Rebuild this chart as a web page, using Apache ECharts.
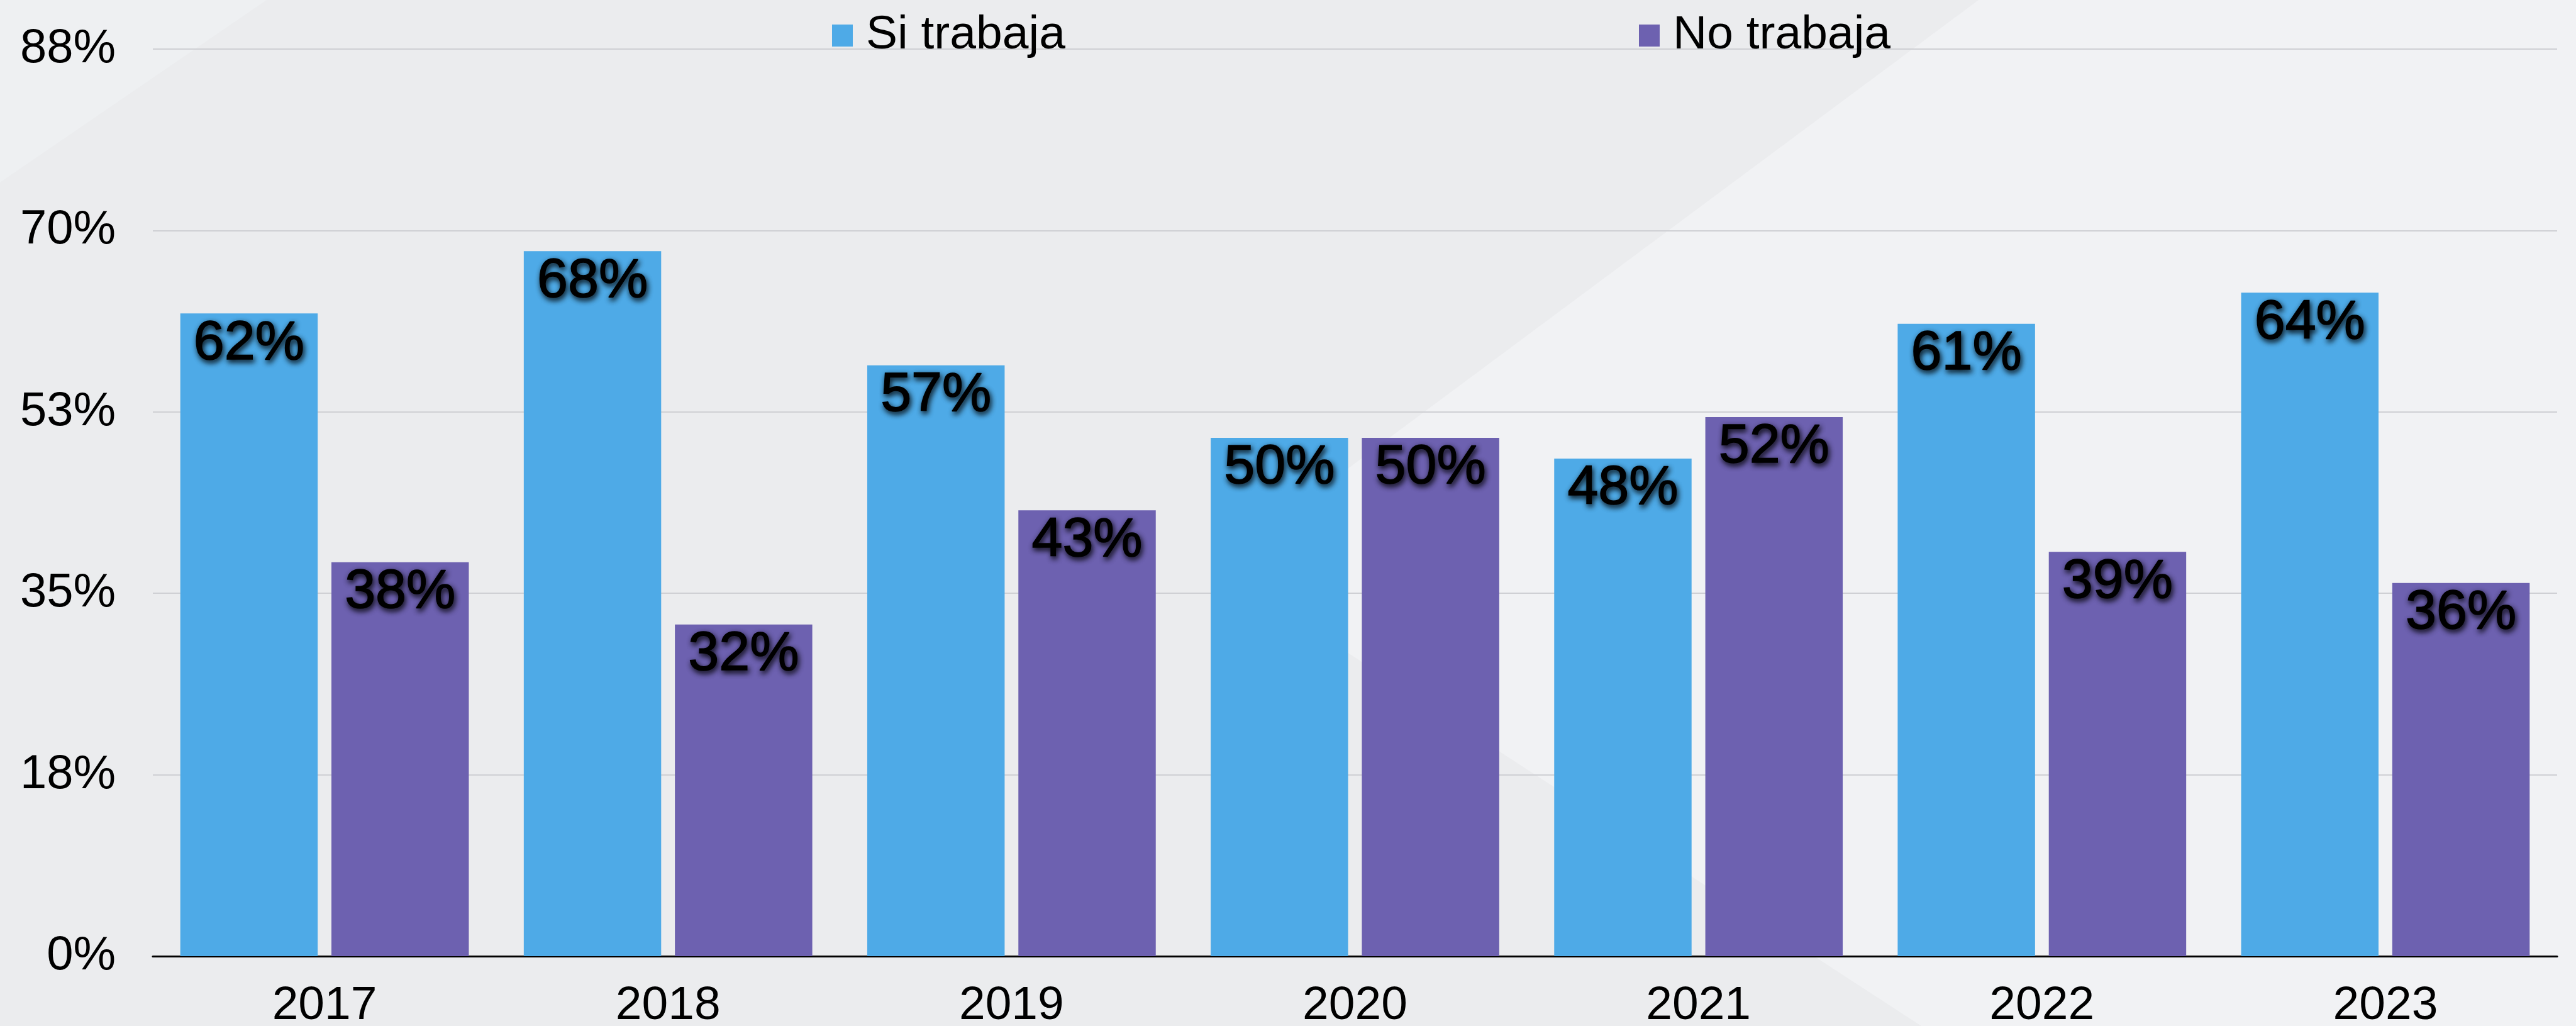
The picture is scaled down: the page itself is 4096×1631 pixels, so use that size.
<!DOCTYPE html>
<html>
<head>
<meta charset="utf-8">
<script src="https://cdn.jsdelivr.net/npm/echarts@6/dist/echarts.min.js"></script>
<style>
  html, body { margin: 0; padding: 0; background: #ebecee; }
  #container { width: 4096px; height: 1631px; }
</style>
</head>
<body>
<div id="container"></div>
<script>
// datos
var years = ['2017', '2018', '2019', '2020', '2021', '2022', '2023'];
var siTrabaja = [62, 68, 57, 50, 48, 61, 64];
var noTrabaja = [38, 32, 43, 50, 52, 39, 36];
var yTicks = [0, 17.5, 35, 52.5, 70, 87.5];

var FONT = '"Liberation Sans", Arial, Helvetica, sans-serif';

var dom = document.getElementById('container');
var myChart = echarts.init(dom);

var barLabel = {
    show: true,
    position: 'insideTop',
    distance: 4,
    formatter: '{c}%',
    color: '#000',
    fontFamily: FONT,
    fontSize: 88,
    textBorderColor: '#000',
    textBorderWidth: 1.5,
    textShadowColor: 'rgba(0,0,0,0.9)',
    textShadowBlur: 9,
    textShadowOffsetX: 2,
    textShadowOffsetY: 4
};

var legendText = {
    color: '#000',
    fontFamily: FONT,
    fontSize: 75,
    padding: [0, 0, 12, 16]
};

var option = {
    backgroundColor: '#ebecee',
    animation: false,
    graphic: [
        {
            type: 'polygon', z: -10, silent: true,
            shape: { points: [[0, 0], [424, 0], [0, 290]] },
            style: { fill: '#eef0f2' }
        },
        {
            type: 'polygon', z: -10, silent: true,
            shape: { points: [[3146, 0], [4096, 0], [4096, 1631], [3055, 1631], [1933, 901]] },
            style: { fill: '#f1f2f4' }
        }
    ],
    legend: [
        {
            data: ['Si trabaja'],
            left: 1318, top: 14,
            icon: 'rect', itemWidth: 33, itemHeight: 35,
            textStyle: legendText
        },
        {
            data: ['No trabaja'],
            left: 2601, top: 14,
            icon: 'rect', itemWidth: 33, itemHeight: 35,
            textStyle: legendText
        }
    ],
    grid: {
        left: 243,
        right: 30,
        top: 78,
        bottom: 111,
        containLabel: false,
        outerBoundsMode: 'none'
    },
    xAxis: {
        type: 'category',
        data: years,
        axisLine: { show: true, lineStyle: { color: '#000', width: 3 } },
        axisTick: { show: false },
        axisLabel: {
            color: '#000',
            fontFamily: FONT,
            fontSize: 75,
            margin: 42
        }
    },
    yAxis: {
        type: 'value',
        min: yTicks[0],
        max: yTicks[yTicks.length - 1],
        interval: 17.5,
        axisLine: { show: false },
        axisTick: { show: false },
        splitLine: { lineStyle: { color: '#cfd0d4', width: 2 } },
        axisLabel: {
            color: '#000',
            fontFamily: FONT,
            fontSize: 76,
            margin: 59,
            formatter: function (v) { return Math.round(v) + '%'; }
        }
    },
    series: [
        {
            name: 'Si trabaja',
            type: 'bar',
            data: siTrabaja,
            barWidth: '40%',
            barGap: '10%',
            itemStyle: { color: '#4eaae7' },
            label: barLabel
        },
        {
            name: 'No trabaja',
            type: 'bar',
            data: noTrabaja,
            barWidth: '40%',
            barGap: '10%',
            itemStyle: { color: '#6d61b0' },
            label: barLabel
        }
    ]
};

myChart.setOption(option, true);
</script>
</body>
</html>
